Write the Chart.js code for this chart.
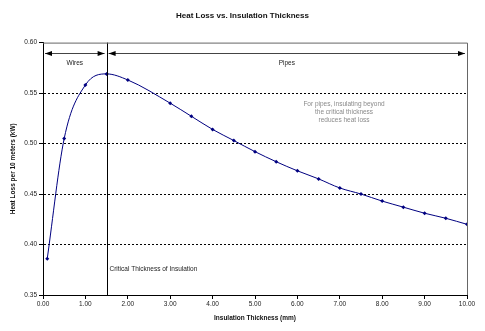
<!DOCTYPE html>
<html lang="en">

<head>
  <meta charset="UTF-8">
  <title>Heat Loss vs. Insulation Thickness</title>
  <script src="https://cdn.jsdelivr.net/npm/chart.js"></script>
  <style>
    html, body {
      margin: 0;
      padding: 0;
      background: #fff;
    }
    #wrap {
      width: 485px;
      height: 331px;
    }
  </style>
</head>

<body>

  <div id="wrap"><canvas id="myChart" width="485" height="331"></canvas></div>

  <script>
    // Data
    const thickness = [0.1, 0.5, 1.0, 1.5, 2.0, 3.0, 3.5, 4.0, 4.5, 5.0, 5.5, 6.0, 6.5, 7.0, 7.5, 8.0, 8.5, 9.0, 9.5, 10.0];
    const heatLoss = [0.386, 0.505, 0.558, 0.569, 0.563, 0.540, 0.527, 0.514, 0.503, 0.492, 0.482, 0.473, 0.465, 0.456, 0.450, 0.443, 0.437, 0.431, 0.426, 0.420];

    // Annotations
    const criticalThickness = 1.5;
    const regionBounds = [0, 1.5, 10];
    const regionNames = ['Wires', 'Pipes'];
    const arrowLevel = 0.59;
    const criticalLabel = 'Critical Thickness of Insulation';
    const criticalLabelLevel = 0.376;
    const noteLines = ['For pipes, insulating beyond', 'the critical thickness', 'reduces heat loss'];
    const notePos = [7.1, 0.539];

    const font = 'Arial, "Liberation Sans", sans-serif';

    const annotations = {
      id: 'annotations',
      afterDatasetsDraw(chart) {
        const ctx = chart.ctx;
        const xs = chart.scales.x, ys = chart.scales.y;
        const area = chart.chartArea;
        ctx.save();

        // vertical line at critical thickness
        const cx = Math.round(xs.getPixelForValue(criticalThickness)) + 0.5;
        ctx.strokeStyle = '#000';
        ctx.lineWidth = 1;
        ctx.beginPath();
        ctx.moveTo(cx, area.top);
        ctx.lineTo(cx, area.bottom);
        ctx.stroke();

        // double arrows for wires / pipes
        const ay = Math.round(ys.getPixelForValue(arrowLevel)) + 0.5;
        ctx.fillStyle = '#000';
        for (let i = 0; i < regionNames.length; i++) {
          const x1 = xs.getPixelForValue(regionBounds[i]) + 2;
          const x2 = xs.getPixelForValue(regionBounds[i + 1]) - 2;
          ctx.strokeStyle = '#444';
          ctx.beginPath();
          ctx.moveTo(x1, ay);
          ctx.lineTo(x2, ay);
          ctx.stroke();
          ctx.beginPath();
          ctx.moveTo(x1, ay);
          ctx.lineTo(x1 + 7, ay - 2.5);
          ctx.lineTo(x1 + 7, ay + 2.5);
          ctx.closePath();
          ctx.fill();
          ctx.beginPath();
          ctx.moveTo(x2, ay);
          ctx.lineTo(x2 - 7, ay - 2.5);
          ctx.lineTo(x2 - 7, ay + 2.5);
          ctx.closePath();
          ctx.fill();

          ctx.font = '6.5px ' + font;
          ctx.fillStyle = '#222';
          ctx.textAlign = 'center';
          ctx.textBaseline = 'middle';
          const mid = (regionBounds[i] + regionBounds[i + 1]) / 2;
          ctx.fillText(regionNames[i], xs.getPixelForValue(mid), ay + 10);
          ctx.fillStyle = '#000';
        }

        // critical thickness label
        ctx.font = '6.5px ' + font;
        ctx.fillStyle = '#222';
        ctx.textAlign = 'left';
        ctx.textBaseline = 'middle';
        ctx.fillText(criticalLabel, cx + 2, ys.getPixelForValue(criticalLabelLevel));

        // grey note
        ctx.fillStyle = '#8a8a8a';
        ctx.textAlign = 'center';
        const nx = xs.getPixelForValue(notePos[0]);
        const ny = ys.getPixelForValue(notePos[1]);
        noteLines.forEach((t, k) => ctx.fillText(t, nx, ny + k * 8));

        // top / right frame
        ctx.strokeStyle = '#666';
        ctx.beginPath();
        ctx.moveTo(area.left, area.top + 0.5);
        ctx.lineTo(Math.round(area.right) + 0.5, area.top + 0.5);
        ctx.lineTo(Math.round(area.right) + 0.5, area.bottom);
        ctx.stroke();
        ctx.restore();
      }
    };

    const config = {
      type: 'line',
      data: {
        datasets: [{
          data: thickness.map((t, i) => ({ x: t, y: heatLoss[i] })),
          borderColor: '#000080',
          borderWidth: 1,
          cubicInterpolationMode: 'monotone',
          pointStyle: 'rectRot',
          pointRadius: 2,
          pointBackgroundColor: '#000080',
          pointBorderColor: '#000080',
          pointBorderWidth: 0
        }]
      },
      options: {
        responsive: false,
        animation: false,
        layout: { padding: 0 },
        plugins: {
          legend: { display: false },
          tooltip: { enabled: false },
          title: {
            display: true,
            text: 'Heat Loss vs. Insulation Thickness',
            color: '#111',
            font: { family: font, size: 8, weight: 'bold' },
            padding: { top: 11, bottom: 22 }
          }
        },
        scales: {
          x: {
            type: 'linear',
            min: 0,
            max: 10,
            ticks: {
              stepSize: 1,
              color: '#222',
              padding: 1,
              font: { family: font, size: 6.5 },
              callback: v => v.toFixed(2)
            },
            grid: {
              drawOnChartArea: false,
              tickLength: 4,
              tickColor: '#000'
            },
            border: { color: '#000', width: 1 },
            title: {
              display: true,
              text: 'Insulation Thickness (mm)',
              color: '#111',
              font: { family: font, size: 6.5, weight: 'bold' },
              padding: { top: 0, bottom: 9 }
            },
            afterFit: s => { s.height = 36; }
          },
          y: {
            min: 0.35,
            max: 0.60,
            ticks: {
              stepSize: 0.05,
              color: '#222',
              padding: 2,
              font: { family: font, size: 6.5 },
              callback: v => v.toFixed(2)
            },
            grid: {
              color: ctx => (ctx.tick && (ctx.tick.value <= 0.351 || ctx.tick.value >= 0.599)) ? 'rgba(0,0,0,0)' : '#000',
              tickLength: 4,
              tickColor: '#000'
            },
            border: { color: '#000', width: 1, dash: [2, 2] },
            title: {
              display: true,
              text: 'Heat Loss per 10 meters (kW)',
              color: '#111',
              font: { family: font, size: 6.5, weight: 'bold' },
              padding: { top: 9, bottom: 0 }
            },
            afterFit: s => { s.width = 43; }
          },
          y2: {
            position: 'right',
            display: true,
            ticks: { display: false },
            grid: { display: false },
            border: { display: false },
            afterFit: s => { s.width = 18; }
          }
        }
      },
      plugins: [annotations]
    };

    const myChart = new Chart(document.getElementById('myChart'), config);
  </script>

</body>

</html>
